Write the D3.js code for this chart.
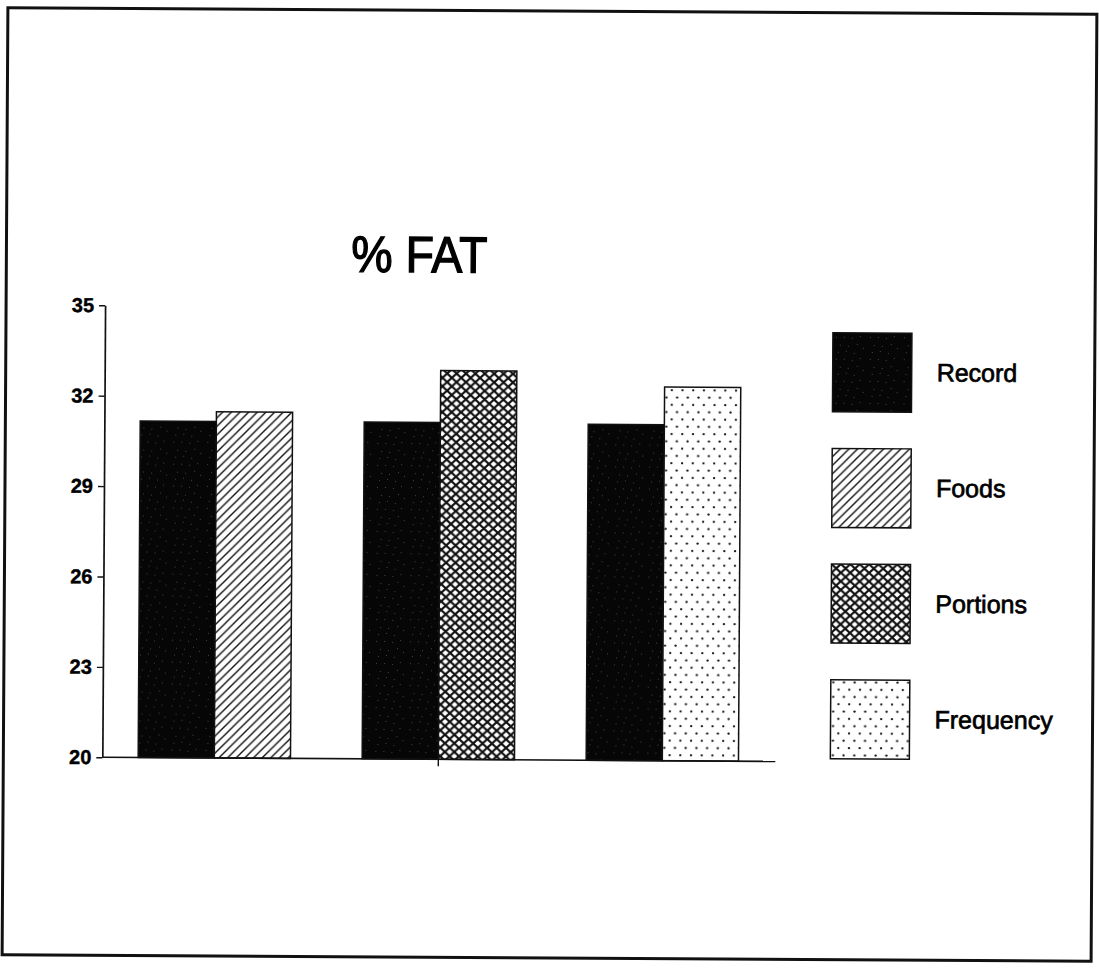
<!DOCTYPE html>
<html>
<head>
<meta charset="utf-8">
<script src="https://cdn.jsdelivr.net/npm/d3@7"></script>
<style>
  html, body { margin: 0; padding: 0; background: #fff; }
  svg { display: block; }
</style>
</head>
<body>
<svg id="chart" width="1099" height="969"></svg>
<script>
// ---- data ----
const groups = ["Group 1", "Group 2", "Group 3"];
const methods = ["Record", "Foods", "Portions", "Frequency"];
const recordValues = [31.17, 31.18, 31.15];
const compareMethods = ["Foods", "Portions", "Frequency"];
const compareValues = [31.49, 32.9, 32.4];
const yTicks = [20, 23, 26, 29, 32, 35];
const titleText = "% FAT";

// one row per bar: [group, method, value]
const bars = [];
groups.forEach((g, i) => {
  bars.push({ group: g, method: "Record", value: recordValues[i] });
  bars.push({ group: g, method: compareMethods[i], value: compareValues[i] });
});

const svg = d3.select("#chart");
const defs = svg.append("defs");

// ---- fill patterns ----
// Record: solid black with a few faint specks
const pRec = defs.append("pattern").attr("id", "pat-record")
  .attr("patternUnits", "userSpaceOnUse").attr("width", 34).attr("height", 22);
pRec.append("rect").attr("width", 34).attr("height", 22).attr("fill", "#060606");
[[3,4],[11,4],[19,5],[27,3],[7,12],[15,13],[24,11],[30,15],[5,19],[13,18],[21,20]].forEach(([x, y]) => {
  pRec.append("rect").attr("x", x).attr("y", y).attr("width", 1).attr("height", 1).attr("fill", "#444");
});

// Foods: single diagonal hatch
const hs = 8.6;
const pFoods = defs.append("pattern").attr("id", "pat-foods")
  .attr("patternUnits", "userSpaceOnUse").attr("width", hs).attr("height", hs);
pFoods.append("rect").attr("width", hs).attr("height", hs).attr("fill", "#fff");
pFoods.append("path")
  .attr("d", `M0,${hs} L${hs},0 M${-hs/2},${hs/2} L${hs/2},${-hs/2} M${hs/2},${hs*1.5} L${hs*1.5},${hs/2}`)
  .attr("stroke", "#111").attr("stroke-width", 1.4);

// Portions: heavy cross hatch
const cw = 9.4, ch = 8.6;
const pPort = defs.append("pattern").attr("id", "pat-portions")
  .attr("patternUnits", "userSpaceOnUse").attr("width", cw).attr("height", ch);
pPort.append("rect").attr("width", cw).attr("height", ch).attr("fill", "#fff");
pPort.append("path")
  .attr("d", `M0,0 L${cw},${ch} M${cw},0 L0,${ch}`)
  .attr("stroke", "#111").attr("stroke-width", 2.2).attr("fill", "none");

// Frequency: staggered dots
const dw = 10.7, dh = 14.6;
const pFreq = defs.append("pattern").attr("id", "pat-frequency")
  .attr("patternUnits", "userSpaceOnUse").attr("width", dw).attr("height", dh);
pFreq.append("rect").attr("width", dw).attr("height", dh).attr("fill", "#fff");
pFreq.append("circle").attr("cx", 2.5).attr("cy", 2.5).attr("r", 1.15).attr("fill", "#111");
pFreq.append("circle").attr("cx", 2.5 + dw/2).attr("cy", 2.5 + dh/2).attr("r", 1.15).attr("fill", "#111");

const fillFor = d3.scaleOrdinal()
  .domain(methods)
  .range(["url(#pat-record)", "url(#pat-foods)", "url(#pat-portions)", "url(#pat-frequency)"]);

// whole sheet is slightly tilted
const page = svg.append("g").attr("transform", "rotate(0.35 550 485)");

// outer frame
page.append("rect")
  .attr("x", 5).attr("y", 11).attr("width", 1089).attr("height", 947)
  .attr("fill", "none").attr("stroke", "#111").attr("stroke-width", 3);

// ---- scales ----
const x0 = d3.scaleBand().domain(groups).range([104, 776])
  .paddingInner(0.32).paddingOuter(0.16);
const x1 = d3.scaleBand().domain(["a", "b"]).range([0, x0.bandwidth()]);
const y = d3.scaleLinear().domain([20, 35]).range([760, 308]);

// ---- bars ----
page.append("g").selectAll("rect")
  .data(bars)
  .join("rect")
  .attr("x", (d, i) => x0(d.group) + x1(i % 2 === 0 ? "a" : "b"))
  .attr("y", d => y(d.value))
  .attr("width", x1.bandwidth())
  .attr("height", d => y(20) - y(d.value))
  .attr("fill", d => fillFor(d.method))
  .attr("stroke", "#111")
  .attr("stroke-width", 1.5);

// ---- axes ----
const yAxis = page.append("g")
  .attr("transform", "translate(104,0)")
  .call(d3.axisLeft(y).tickValues(yTicks).tickSize(6).tickSizeOuter(0).tickPadding(5));
yAxis.select(".domain").attr("stroke", "#111").attr("stroke-width", 1.7);
yAxis.selectAll(".tick line").attr("stroke", "#111").attr("stroke-width", 1.4);
yAxis.selectAll(".tick text")
  .attr("font-family", "Liberation Sans, Arial, sans-serif")
  .attr("font-weight", "bold")
  .attr("font-size", 20)
  .attr("stroke", "#000").attr("stroke-width", 0.4)
  .attr("fill", "#000");

const xAxis = page.append("g")
  .attr("transform", `translate(0,${y(20)})`)
  .call(d3.axisBottom(x0).tickValues([groups[1]]).tickSize(7).tickSizeOuter(0).tickFormat(""));
xAxis.select(".domain").attr("stroke", "#111").attr("stroke-width", 1.7)
  .attr("d", "M104,0H777");
xAxis.selectAll(".tick line").attr("stroke", "#111").attr("stroke-width", 1.4);

// ---- title ----
page.append("text")
  .attr("x", 350).attr("y", 273)
  .attr("font-family", "Liberation Sans, Arial, sans-serif")
  .attr("font-size", 51)
  .attr("textLength", 136)
  .attr("lengthAdjust", "spacingAndGlyphs")
  .attr("fill", "#000")
  .attr("stroke", "#000").attr("stroke-width", 1.3)
  .text(titleText);

// ---- legend ----
const legendY = d3.scalePoint().domain(methods).range([331, 678]);
const legend = page.append("g").selectAll("g")
  .data(methods)
  .join("g")
  .attr("transform", d => `translate(832,${legendY(d)})`);
legend.append("rect")
  .attr("width", 79).attr("height", 79)
  .attr("fill", d => fillFor(d))
  .attr("stroke", "#111").attr("stroke-width", 1.5);
legend.append("text")
  .attr("x", 104).attr("y", 48)
  .attr("font-family", "Liberation Sans, Arial, sans-serif")
  .attr("font-size", 25)
  .attr("fill", "#000")
  .attr("stroke", "#000").attr("stroke-width", 0.7)
  .text(d => d);
</script>
</body>
</html>
